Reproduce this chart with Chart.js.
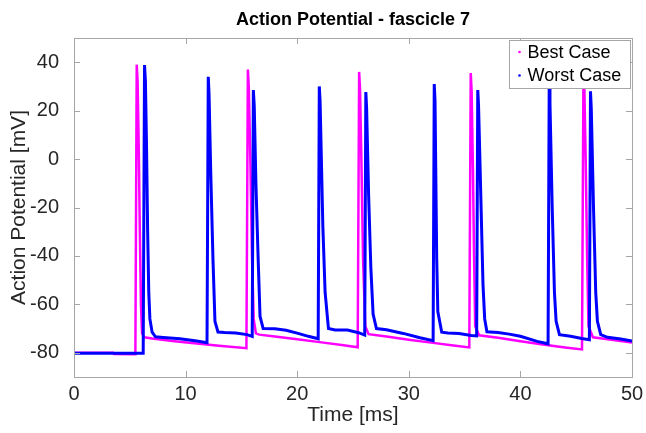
<!DOCTYPE html>
<html>
<head>
<meta charset="utf-8">
<script src="https://cdn.jsdelivr.net/npm/chart.js@4"></script>
<style>
  html, body { margin: 0; padding: 0; background: #fff; }
  #wrap { width: 646px; height: 433px; }
</style>
</head>
<body>
<div id="wrap"><canvas id="apChart"></canvas></div>
<script>
// Best Case trace (time in ms, potential in mV)
const bestTime = [0, 3.5, 3.6, 5.5, 5.62, 5.7, 5.8, 5.9, 6.0, 6.1, 6.3, 7.0, 9.0, 11.0, 13.0, 15.45,
  15.58, 15.66, 15.8, 15.95, 16.1, 16.3, 16.6, 18.0, 20.0, 22.0, 24.0, 25.42,
  25.55, 25.63, 25.75, 25.9, 26.1, 26.4, 28.0, 30.0, 32.0, 34.0, 35.42,
  35.55, 35.63, 35.75, 35.85, 35.95, 36.3, 38.0, 40.0, 42.0, 44.0, 45.52,
  45.65, 45.73, 45.85, 45.98, 46.1, 46.5, 48.0, 50.0];
const bestVolt = [-80, -80, -80.5, -80.6, 39, 32, 5, -30, -60, -72, -73.6, -74.1, -75.2, -76.2, -77.1, -78.1,
  37, 30, 0, -40, -66, -72, -72.5, -73.3, -74.4, -75.6, -76.8, -77.7,
  36, 29, 0, -41, -69, -72.3, -73.3, -74.6, -75.8, -77.0, -77.8,
  35.5, 28, -5, -41, -69, -72.8, -73.8, -75.2, -76.6, -77.8, -78.6,
  36, 29, 0, -41, -69, -73.6, -74.5, -75.8];

// Worst Case trace
const worstTime = [0, 6.2, 6.32, 6.4, 6.5, 6.6, 6.7, 6.8, 7.0, 7.3, 8.0, 9.5, 11.0, 11.92,
  12.03, 12.1, 12.25, 12.45, 12.63, 12.9, 13.5, 14.5, 15.5, 15.97,
  16.07, 16.15, 16.3, 16.5, 16.67, 16.95, 18.0, 19.0, 20.0, 21.0, 21.88,
  21.98, 22.05, 22.3, 22.5, 22.8, 23.4, 24.5, 25.5, 26.05,
  26.15, 26.22, 26.4, 26.6, 26.8, 27.1, 28.0, 29.5, 31.0, 32.18,
  32.28, 32.35, 32.5, 32.6, 32.95, 33.5, 34.5, 35.6, 36.08,
  36.18, 36.25, 36.45, 36.65, 36.8, 37.0, 38.0, 39.0, 40.0, 41.5, 42.48,
  42.58, 42.65, 42.85, 43.05, 43.2, 43.5, 44.5, 45.5, 46.18,
  46.28, 46.35, 46.55, 46.75, 46.9, 47.2, 47.8, 49.0, 50.0];
const worstVolt = [-80.2, -80.2, 38.8, 32, 5, -30, -55, -66, -71.5, -73.4, -73.7, -74.2, -75.1, -75.8,
  34, 27, -5, -41, -67, -71.4, -71.6, -71.8, -72.5, -73.2,
  28.5, 22, -10, -41, -65, -70, -70.1, -70.7, -71.9, -73.2, -74.2,
  30, 24, -28, -55, -70, -70.6, -70.6, -71.7, -72.7,
  27.7, 21, -15, -45, -64, -70, -70.5, -72, -73.8, -75,
  31, 24, -41, -63, -71.5, -71.8, -72, -72.9, -73,
  28.5, 22, -15, -52, -66, -71.3, -71.6, -72.3, -73.2, -75.3, -76.3,
  30, 23, -20, -55, -67, -72.5, -73.2, -74.1, -74.6,
  28, 21, -20, -55, -67, -72.5, -73.6, -74.3, -75.1];

const xTicks = [0, 10, 20, 30, 40, 50];
const yTicks = [-80, -60, -40, -20, 0, 20, 40];
const seriesNames = ['Best Case', 'Worst Case'];
const seriesColors = ['#FF00FF', '#0000FF'];

function toPoints(xs, ys) {
    return xs.map((x, i) => ({ x: x, y: ys[i] }));
}

const FONT = 'Liberation Sans, Arial, sans-serif';

// box, inward ticks and legend drawn like a MATLAB axes
const matlabAxes = {
    id: 'matlabAxes',
    afterDatasetsDraw(chart) {
        const { ctx, chartArea: a, scales } = chart;
        ctx.save();
        ctx.strokeStyle = '#a6a6a6';
        ctx.lineWidth = 1;
        ctx.beginPath();
        xTicks.forEach(v => {
            const px = Math.round(scales.x.getPixelForValue(v)) + 0.5;
            ctx.moveTo(px, a.bottom); ctx.lineTo(px, a.bottom - 6);
            ctx.moveTo(px, a.top); ctx.lineTo(px, a.top + 6);
        });
        yTicks.forEach(v => {
            const py = Math.round(scales.y.getPixelForValue(v)) + 0.5;
            ctx.moveTo(a.left, py); ctx.lineTo(a.left + 6, py);
            ctx.moveTo(a.right, py); ctx.lineTo(a.right - 6, py);
        });
        ctx.stroke();
        ctx.strokeRect(Math.round(a.left) + 0.5, Math.round(a.top) + 0.5,
            Math.round(a.right - a.left), Math.round(a.bottom - a.top));

        // legend
        const bx = 509.5, by = 40.5, bw = 121, bh = 48;
        ctx.fillStyle = '#fff';
        ctx.fillRect(bx, by, bw, bh);
        ctx.strokeStyle = '#a6a6a6';
        ctx.strokeRect(bx, by, bw, bh);
        ctx.font = '18px ' + FONT;
        ctx.textBaseline = 'middle';
        seriesNames.forEach((name, i) => {
            const cy = by + 11.5 + i * 23.5;
            ctx.fillStyle = seriesColors[i];
            ctx.beginPath();
            ctx.arc(bx + 10, cy, 1.3, 0, Math.PI * 2);
            ctx.fill();
            ctx.fillStyle = '#000';
            ctx.fillText(name, bx + 18, cy + 1);
        });
        ctx.restore();
    }
};

const ctx = document.getElementById('apChart').getContext('2d');
const apChart = new Chart(ctx, {
    type: 'scatter',
    data: {
        datasets: [{
            label: seriesNames[0],
            data: toPoints(bestTime, bestVolt),
            borderColor: seriesColors[0],
            backgroundColor: seriesColors[0],
            borderWidth: 2.5,
            showLine: true,
            pointRadius: 0,
            tension: 0,
            order: 1
        }, {
            label: seriesNames[1],
            data: toPoints(worstTime, worstVolt),
            borderColor: seriesColors[1],
            backgroundColor: seriesColors[1],
            borderWidth: 3,
            showLine: true,
            pointRadius: 0,
            tension: 0,
            order: 0
        }]
    },
    options: {
        responsive: true,
        maintainAspectRatio: false,
        animation: false,
        layout: { padding: { left: 7, right: 14, top: 0, bottom: 0 } },
        plugins: {
            legend: { display: false },
            tooltip: { enabled: false },
            title: {
                display: true,
                fullSize: false,
                text: 'Action Potential - fascicle 7',
                color: '#000',
                font: { family: FONT, size: 18, weight: 'bold' },
                padding: { top: 9, bottom: 7.4 }
            }
        },
        scales: {
            x: {
                type: 'linear',
                min: 0,
                max: 50,
                afterBuildTicks: scale => { scale.ticks = xTicks.map(v => ({ value: v })); },
                afterFit: scale => { scale.height = 56; },
                grid: { display: false },
                border: { display: false },
                ticks: { color: '#262626', font: { family: FONT, size: 20 }, padding: -3, maxRotation: 0 },
                title: {
                    display: true,
                    text: 'Time [ms]',
                    color: '#262626',
                    font: { family: FONT, size: 21 },
                    padding: { top: 0, bottom: 5 }
                }
            },
            y: {
                type: 'linear',
                min: -90,
                max: 50,
                afterBuildTicks: scale => { scale.ticks = yTicks.map(v => ({ value: v })); },
                afterFit: scale => { scale.width = 67; },
                grid: { display: false },
                border: { display: false },
                ticks: { color: '#262626', font: { family: FONT, size: 20 }, padding: 7 },
                title: {
                    display: true,
                    text: 'Action Potential [mV]',
                    color: '#262626',
                    font: { family: FONT, size: 21 },
                    padding: { top: 0, bottom: 4 }
                }
            }
        }
    },
    plugins: [matlabAxes]
});
</script>
</body>
</html>
